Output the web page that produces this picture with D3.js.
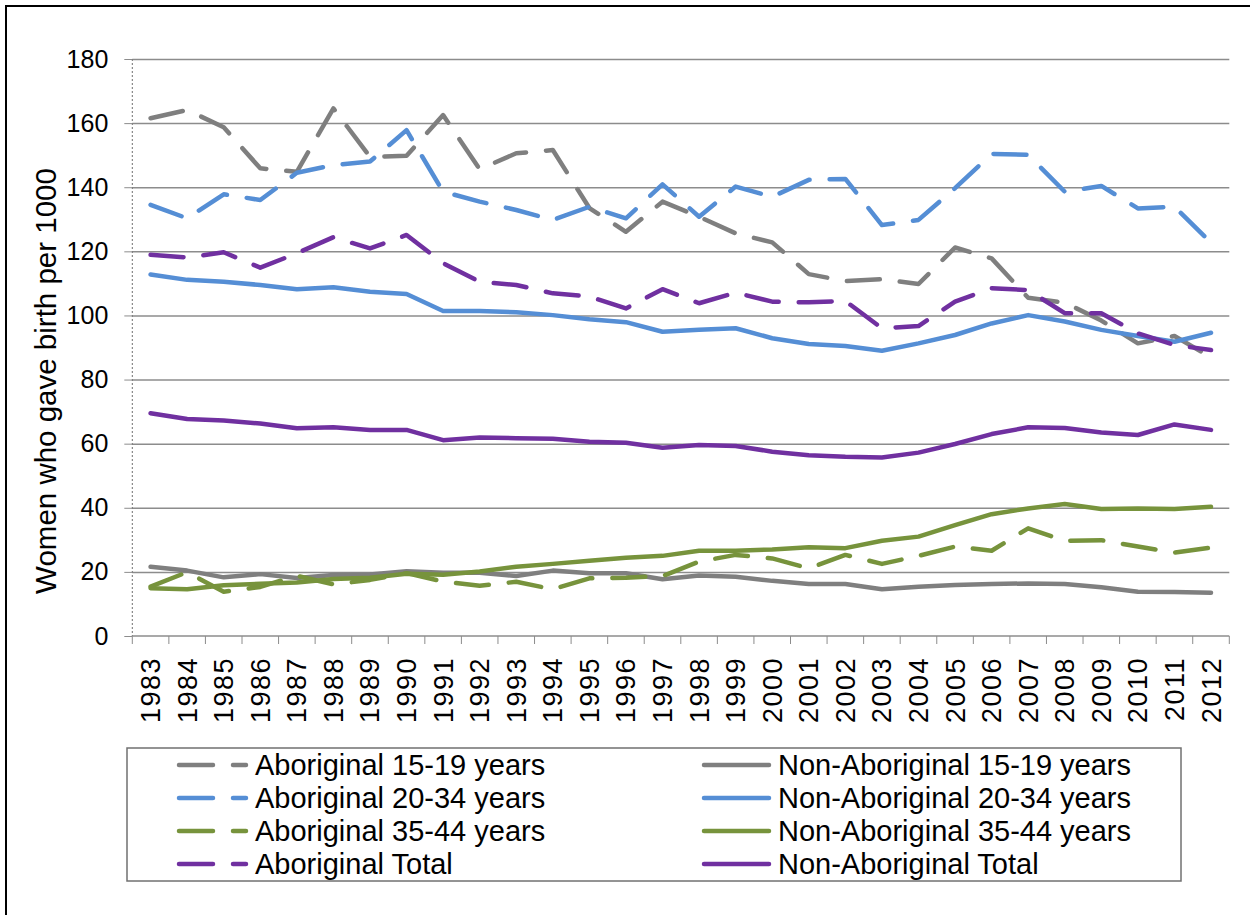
<!DOCTYPE html>
<html>
<head>
<meta charset="utf-8">
<title>Women who gave birth per 1000</title>
<script src="https://d3js.org/d3.v7.min.js"></script>
<style>
  body { margin: 0; background: #fff; }
  svg { display: block; font-family: "Liberation Sans", Arial, sans-serif; }
  .grid line { stroke: #8c8c8c; stroke-width: 1.5px; }
  .series { fill: none; stroke-width: 4.5px; stroke-linejoin: round; stroke-linecap: round; }
</style>
</head>
<body>
<script>
// years on the x axis
var years = d3.range(1983, 2013).map(String);

// values (births per 1000 women)
var abor1519 = [161.5, 164.1, 158.7, 145.9, 144.8, 164.6, 149.5, 149.8, 162.5, 145.6,
                150.6, 151.6, 133.5, 126.1, 135.5, 130.8, 125.6, 122.8, 112.9, 110.7,
                111.3, 109.8, 121.2, 117.8, 105.5, 104.0, 98.4, 91.3, 93.6, 86.9];
var nonAbor1519 = [21.6, 20.4, 18.3, 19.3, 18.1, 19.0, 19.2, 20.2, 19.7, 19.7,
                   18.7, 20.4, 19.6, 19.6, 17.7, 18.9, 18.5, 17.2, 16.2, 16.2,
                   14.6, 15.4, 15.9, 16.2, 16.4, 16.2, 15.2, 13.8, 13.7, 13.5];
var abor2034 = [134.5, 130.3, 137.8, 136.0, 144.5, 146.9, 148.0, 157.8, 138.6, 135.5,
                132.9, 129.8, 133.9, 130.3, 140.9, 130.8, 140.2, 137.0, 142.3, 142.6,
                128.2, 129.8, 139.7, 150.4, 150.1, 138.6, 140.4, 133.4, 133.9, 122.7];
var nonAbor2034 = [112.8, 111.1, 110.5, 109.5, 108.2, 108.8, 107.4, 106.7, 101.4, 101.4,
                   101.0, 100.1, 98.8, 97.9, 94.9, 95.5, 96.0, 92.9, 91.1, 90.5,
                   89.0, 91.3, 93.9, 97.5, 100.1, 98.1, 95.5, 93.6, 91.8, 94.6];
var abor3544 = [15.4, 19.9, 13.8, 15.3, 18.8, 16.1, 17.5, 19.6, 17.0, 15.7,
                16.9, 14.6, 18.0, 18.2, 18.7, 23.2, 25.3, 24.2, 21.1, 25.3,
                22.5, 25.0, 27.9, 26.6, 33.6, 29.7, 29.9, 27.9, 26.0, 27.6];
var nonAbor3544 = [14.9, 14.6, 15.8, 16.3, 16.7, 17.8, 18.2, 19.4, 19.1, 20.1,
                   21.6, 22.5, 23.5, 24.4, 25.0, 26.6, 26.6, 27.0, 27.7, 27.4,
                   29.7, 31.0, 34.6, 38.0, 39.8, 41.2, 39.6, 39.8, 39.6, 40.3];
var aborTotal = [118.9, 118.1, 119.7, 114.9, 119.4, 124.4, 120.9, 125.1, 116.3, 110.5,
                 109.5, 106.9, 105.9, 102.2, 108.2, 103.8, 107.1, 104.3, 104.1, 104.5,
                 96.0, 96.7, 104.3, 108.5, 107.9, 100.7, 100.7, 94.4, 90.8, 89.2];
var nonAborTotal = [69.5, 67.7, 67.2, 66.3, 64.8, 65.1, 64.3, 64.3, 61.1, 61.9,
                    61.7, 61.5, 60.6, 60.3, 58.7, 59.6, 59.3, 57.5, 56.4, 55.9,
                    55.7, 57.2, 59.9, 63.0, 65.1, 64.9, 63.5, 62.7, 66.0, 64.3];

var yTicks = [0, 20, 40, 60, 80, 100, 120, 140, 160, 180];

// series in legend order (row by row, two columns)
var series = [
  {name: "Aboriginal 15-19 years",     values: abor1519,     color: "#7f7f7f", dashed: true},
  {name: "Non-Aboriginal 15-19 years", values: nonAbor1519,  color: "#7f7f7f", dashed: false},
  {name: "Aboriginal 20-34 years",     values: abor2034,     color: "#558ed5", dashed: true},
  {name: "Non-Aboriginal 20-34 years", values: nonAbor2034,  color: "#558ed5", dashed: false},
  {name: "Aboriginal 35-44 years",     values: abor3544,     color: "#77933c", dashed: true},
  {name: "Non-Aboriginal 35-44 years", values: nonAbor3544,  color: "#77933c", dashed: false},
  {name: "Aboriginal Total",           values: aborTotal,    color: "#7030a0", dashed: true},
  {name: "Non-Aboriginal Total",       values: nonAborTotal, color: "#7030a0", dashed: false}
];

var W = 1250, H = 915;
var plot = {left: 132.3, right: 1229.3, top: 59, bottom: 636};

var svg = d3.select("body").append("svg")
    .attr("width", W)
    .attr("height", H);

// outer chart border
svg.append("rect")
    .attr("x", 6).attr("y", 6)
    .attr("width", W + 20).attr("height", H + 20)
    .attr("fill", "none")
    .attr("stroke", "#000")
    .attr("stroke-width", 2);

var x = d3.scaleBand().domain(years).range([plot.left, plot.right]);
var y = d3.scaleLinear().domain([0, 180]).range([plot.bottom, plot.top]);
var cx = function(i) { return x(years[i]) + x.bandwidth() / 2; };

// horizontal gridlines
svg.append("g")
    .attr("class", "grid")
    .attr("transform", "translate(" + plot.left + ",0)")
    .call(d3.axisLeft(y).tickValues(yTicks.slice(1)).tickSize(-(plot.right - plot.left)).tickFormat(""))
    .call(function(g) { g.select(".domain").remove(); });

// y axis: dotted line, small ticks, labels
svg.append("line")
    .attr("x1", plot.left).attr("x2", plot.left)
    .attr("y1", plot.top).attr("y2", plot.bottom)
    .attr("stroke", "#707070")
    .attr("stroke-width", 1)
    .attr("stroke-dasharray", "2 2");

svg.append("g")
    .attr("transform", "translate(" + plot.left + ",0)")
    .call(d3.axisLeft(y).tickValues(yTicks).tickSize(8).tickPadding(16))
    .call(function(g) {
      g.select(".domain").remove();
      g.selectAll(".tick line").attr("stroke", "#8c8c8c").attr("stroke-width", 1);
      g.selectAll("text")
        .attr("fill", "#000")
        .style("font-size", "25px")
        .style("font-family", "'Liberation Sans', Arial, sans-serif");
    });

// x axis line + tick marks between categories
svg.append("line")
    .attr("x1", plot.left).attr("x2", plot.right)
    .attr("y1", plot.bottom).attr("y2", plot.bottom)
    .attr("stroke", "#8c8c8c")
    .attr("stroke-width", 1.5);

var edges = years.map(function(d) { return x(d); }).concat([plot.right]);
svg.append("g").selectAll("line")
    .data(edges)
    .join("line")
    .attr("x1", function(d) { return d; })
    .attr("x2", function(d) { return d; })
    .attr("y1", plot.bottom)
    .attr("y2", plot.bottom + 8)
    .attr("stroke", "#8c8c8c")
    .attr("stroke-width", 1);

// rotated year labels
svg.append("g").selectAll("text")
    .data(years)
    .join("text")
    .attr("transform", function(d) {
      return "translate(" + (x(d) + x.bandwidth() / 2 + 9.5) + "," + (plot.bottom + 21) + ") rotate(-90)";
    })
    .attr("text-anchor", "end")
    .style("font-size", "27px")
    .style("letter-spacing", "1.5px")
    .text(function(d) { return d; });

// y axis title
svg.append("text")
    .attr("transform", "translate(56,381) rotate(-90)")
    .attr("text-anchor", "middle")
    .style("font-size", "29.5px")
    .text("Women who gave birth per 1000");

// the lines
var line = d3.line()
    .x(function(d, i) { return cx(i); })
    .y(function(d) { return y(d); });

svg.append("g").selectAll("path")
    .data(series)
    .join("path")
    .attr("class", "series")
    .attr("stroke", function(d) { return d.color; })
    .attr("stroke-dasharray", function(d) { return d.dashed ? "33 20" : null; })
    .attr("d", function(d) { return line(d.values); });

// legend
var legendBox = {x: 127, y: 748, w: 1054, h: 133};
svg.append("rect")
    .attr("x", legendBox.x).attr("y", legendBox.y)
    .attr("width", legendBox.w).attr("height", legendBox.h)
    .attr("fill", "#fff")
    .attr("stroke", "#707070")
    .attr("stroke-width", 1.5);

var rowY = [765, 798, 831, 864];
var legendItems = svg.append("g").selectAll("g")
    .data(series)
    .join("g")
    .attr("transform", function(d, i) {
      var col = i % 2, row = Math.floor(i / 2);
      return "translate(" + (col === 0 ? 179 : 704) + "," + rowY[row] + ")";
    });

legendItems.append("line")
    .attr("x1", 0)
    .attr("x2", function(d) { return d.dashed ? 67 : 65; })
    .attr("stroke", function(d) { return d.color; })
    .attr("stroke-width", 4.5)
    .attr("stroke-linecap", "round")
    .attr("stroke-dasharray", function(d) { return d.dashed ? "34 20" : null; });

legendItems.append("text")
    .attr("x", function(d) { return d.dashed ? 76 : 74; })
    .attr("dy", "0.36em")
    .style("font-size", "29px")
    .text(function(d) { return d.name; });
</script>
</body>
</html>
